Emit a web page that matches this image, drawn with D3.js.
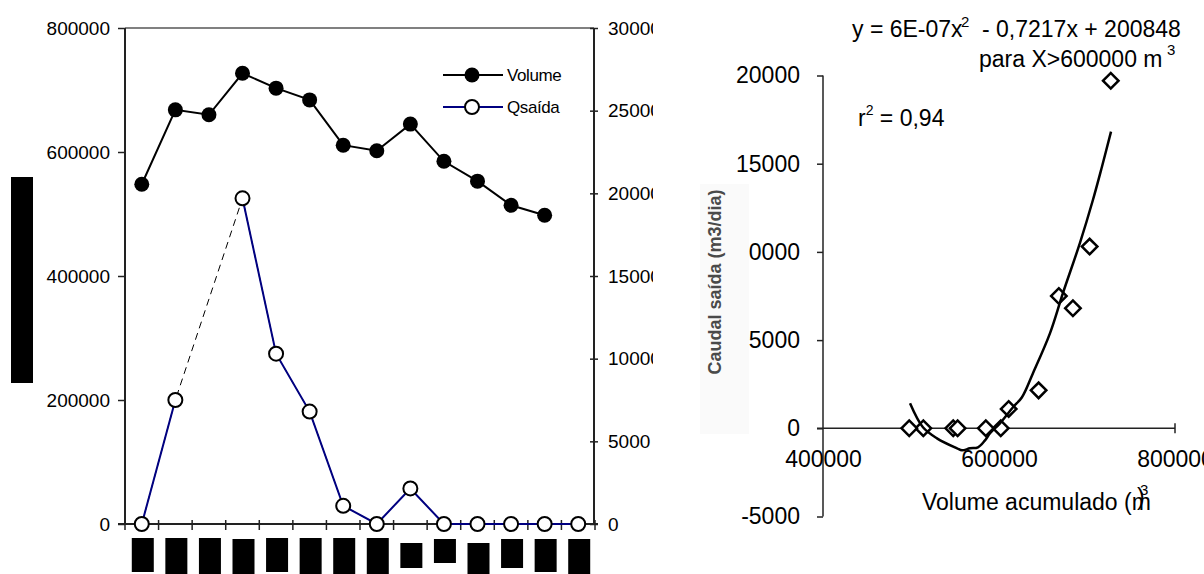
<!DOCTYPE html>
<html><head><meta charset="utf-8">
<script src="https://cdn.jsdelivr.net/npm/d3@7"></script>
<style>
html,body{margin:0;padding:0;background:#fff;}
svg{display:block;font-family:"Liberation Sans",Arial,sans-serif;}
</style></head>
<body><svg id="c" width="1204" height="574"></svg>
<script>
// ---------- data ----------
const categories = ["1","2","3","4","5","6","7","8","9","10","11","12","13","14"];
const volume = [548000, 668000, 660000, 727000, 703000, 684000, 611000, 602000, 645000, 585000, 553000, 514000, 498000, null];
const qsaida = [0, 7500, null, 19700, 10300, 6800, 1100, 0, 2150, 0, 0, 0, 0, 0];
const volTicks = [0, 200000, 400000, 600000, 800000];
const qTicks = [0, 5000, 10000, 15000, 20000, 25000, 30000];
const scatterXTicks = [400000, 600000, 800000];
const scatterYTicks = [-5000, 0, 5000, 10000, 15000, 20000];
// trend curve (volume, caudal)
const trendVol = [498900, 513600, 529500, 552300, 558000, 567000, 576100, 584100, 589800, 601100, 615900, 626100, 638600, 658000, 672700, 692000, 706800, 717000, 727300];
const trendQ   = [1420, 57, -568, -1136, -1250, -1136, -1080, -682, -284, 284, 1193, 1761, 3125, 5398, 7671, 10512, 12955, 14830, 16818];
const seriesNames = ["Volume", "Qsaída"];

const fmt = d => String(d);
const svg = d3.select("#c");
svg.append("rect").attr("width",1204).attr("height",574).attr("fill","#fff");

// ---------- left chart ----------
svg.append("defs").append("clipPath").attr("id","clipL")
  .append("rect").attr("x",0).attr("y",0).attr("width",653).attr("height",574);
const L = svg.append("g").attr("clip-path","url(#clipL)");

const xL = d3.scaleBand().domain(categories).range([125, 595]);
const cx = c => xL(c) + xL.bandwidth()/2;
const yV = d3.scaleLinear().domain([0, 800000]).range([524, 28]);
const yQ = d3.scaleLinear().domain([0, 30000]).range([524, 28]);

// top border
L.append("line").attr("x1",125).attr("x2",594).attr("y1",yV(800000)).attr("y2",yV(800000))
  .attr("stroke","#808080").attr("stroke-width",2);

// left axis
const axL = L.append("g").attr("transform","translate(125,0)")
  .call(d3.axisLeft(yV).tickValues(volTicks).tickSize(7).tickPadding(8).tickFormat(fmt));
axL.select(".domain").attr("stroke","#222").attr("stroke-width",2).attr("d","M0,28V524");
axL.selectAll(".tick line").attr("stroke","#222").attr("stroke-width",1.5);
axL.selectAll("text").attr("font-size",19).attr("fill","#000").attr("font-family","Liberation Sans, Arial, sans-serif");

// right axis
const axR = L.append("g").attr("transform","translate(594,0)")
  .call(d3.axisRight(yQ).tickValues(qTicks).tickSize(4).tickPadding(10).tickFormat(fmt));
axR.select(".domain").attr("stroke","#222").attr("stroke-width",2).attr("d","M0,28V524");
axR.selectAll(".tick line").attr("x1",-4).attr("x2",4).attr("stroke","#222").attr("stroke-width",1.5);
axR.selectAll("text").attr("font-size",19).attr("fill","#000").attr("font-family","Liberation Sans, Arial, sans-serif");

// bottom axis with boundary ticks
L.append("line").attr("x1",118).attr("x2",598).attr("y1",yV(0)).attr("y2",yV(0)).attr("stroke","#222").attr("stroke-width",2);
const bounds = categories.map(c => xL(c)).concat([xL.range()[1]]);
L.selectAll("line.bt").data(bounds).join("line").attr("class","bt")
  .attr("x1",d=>d).attr("x2",d=>d).attr("y1",yV(0)-4).attr("y2",yV(0)+6)
  .attr("stroke","#222").attr("stroke-width",1.5);

// redacted category labels (black boxes)
const boxTop = [538,538,538,539,538,538,538,538,543,539,543,539,539,539];
const boxBot = [572,574,574,574,572,574,574,574,568,563,574,568,572,574];
L.selectAll("rect.lab").data(categories).join("rect").attr("class","lab")
  .attr("x",c=>cx(c)-10).attr("width",22)
  .attr("y",(c,i)=>boxTop[i]).attr("height",(c,i)=>boxBot[i]-boxTop[i]).attr("fill","#000");
// redacted y-axis title
L.append("rect").attr("x",11).attr("y",177).attr("width",22).attr("height",206).attr("fill","#000");

// Volume line
const volPts = categories.map((c,i)=>({c, v: volume[i]})).filter(d=>d.v!=null);
L.append("path").datum(volPts)
  .attr("d", d3.line().x(d=>cx(d.c)).y(d=>yV(d.v)))
  .attr("fill","none").attr("stroke","#000").attr("stroke-width",2);

// Qsaída: dashed bridge over missing value
const qAll = categories.map((c,i)=>({c, v: qsaida[i]}));
const qDef = qAll.filter(d=>d.v!=null);
L.append("path").datum(qDef)
  .attr("d", d3.line().x(d=>cx(d.c)).y(d=>yQ(d.v)))
  .attr("fill","none").attr("stroke","#000").attr("stroke-width",1).attr("stroke-dasharray","7,5");
L.append("path").datum(qAll)
  .attr("d", d3.line().defined(d=>d.v!=null).x(d=>cx(d.c)).y(d=>yQ(d.v)))
  .attr("fill","none").attr("stroke","#000080").attr("stroke-width",2);
L.selectAll("circle.q").data(qDef).join("circle").attr("class","q")
  .attr("cx",d=>cx(d.c)).attr("cy",d=>yQ(d.v)).attr("r",7)
  .attr("fill","#fff").attr("stroke","#000").attr("stroke-width",2);
L.selectAll("circle.v").data(volPts).join("circle").attr("class","v")
  .attr("cx",d=>cx(d.c)).attr("cy",d=>yV(d.v)).attr("r",7.5).attr("fill","#000");

// legend
const lg = L.append("g");
[[75,"#000",true],[107,"#000080",false]].forEach((s,i)=>{
  lg.append("line").attr("x1",443).attr("x2",503).attr("y1",s[0]).attr("y2",s[0]).attr("stroke",s[1]).attr("stroke-width",2);
  lg.append("circle").attr("cx",472).attr("cy",s[0]).attr("r",s[2]?7.5:7)
    .attr("fill",s[2]?"#000":"#fff").attr("stroke","#000").attr("stroke-width",s[2]?0:2);
  lg.append("text").attr("x",507).attr("y",s[0]+6).attr("font-size",17).attr("letter-spacing",-0.4).text(seriesNames[i]);
});

// ---------- right chart (scatter) ----------
const R = svg.append("g");
const xS = d3.scaleLinear().domain([400000, 800000]).range([823, 1175]);
const yS = d3.scaleLinear().domain([-5000, 20000]).range([516.5, 75.5]);

const axSY = R.append("g").attr("transform","translate(823,0)")
  .call(d3.axisLeft(yS).tickValues(scatterYTicks).tickSize(6).tickPadding(17).tickFormat(fmt));
axSY.select(".domain").attr("stroke","#222").attr("stroke-width",1.5).attr("d",`M0,${yS(20000)}V${yS(-5000)}`);
axSY.selectAll(".tick line").attr("stroke","#222").attr("stroke-width",1.5);
axSY.selectAll("text").attr("font-size",23).attr("fill","#000").attr("font-family","Liberation Sans, Arial, sans-serif");

const axSX = R.append("g").attr("transform",`translate(0,${yS(0)})`)
  .call(d3.axisBottom(xS).tickValues(scatterXTicks).tickSize(0).tickPadding(22).tickFormat(fmt));
axSX.select(".domain").attr("stroke","#222").attr("stroke-width",1.5).attr("d","M817,0H1175");
axSX.selectAll("text").attr("font-size",23).attr("fill","#000").attr("font-family","Liberation Sans, Arial, sans-serif");
R.append("line").attr("x1",xS(800000)).attr("x2",xS(800000)).attr("y1",yS(0)-5).attr("y2",yS(0)+5)
  .attr("stroke","#222").attr("stroke-width",1.5);

// y title with light box (covers the leading digit of 10000 as in the original)
R.append("rect").attr("x",700).attr("y",184).attr("width",49).attr("height",250).attr("fill","#fafafa");
R.append("text").attr("transform","translate(721,282) rotate(-90)").attr("text-anchor","middle")
  .attr("font-size",18).attr("font-weight","bold").attr("fill","#4a4a4a").text("Caudal saída (m3/dia)");

// scatter points
const sc = categories.map((c,i)=>({x: volume[i], y: qsaida[i]})).filter(d=>d.x!=null && d.y!=null);
R.selectAll("path.pt").data(sc).join("path").attr("class","pt")
  .attr("transform",d=>`translate(${xS(d.x)},${yS(d.y)}) rotate(45)`)
  .attr("d", d3.symbol().type(d3.symbolSquare).size(120))
  .attr("fill","#fff").attr("stroke","#000").attr("stroke-width",2.5);

// trend curve
const trend = trendVol.map((v,i)=>({x:v, y:trendQ[i]}));
R.append("path").datum(trend)
  .attr("d", d3.line().curve(d3.curveCatmullRom).x(d=>xS(d.x)).y(d=>yS(d.y)))
  .attr("fill","none").attr("stroke","#000").attr("stroke-width",2.5);

// annotations
R.append("text").attr("x",852).attr("y",37).attr("font-size",23).text("y = 6E-07x");
R.append("text").attr("x",961).attr("y",27).attr("font-size",15).text("2");
R.append("text").attr("x",982).attr("y",37).attr("font-size",23).text("- 0,7217x + 200848");
R.append("text").attr("x",979).attr("y",67).attr("font-size",23).text("para X>600000 m");
R.append("text").attr("x",1167).attr("y",55).attr("font-size",15).text("3");
const r2 = R.append("text").attr("x",858).attr("y",126).attr("font-size",23);
r2.append("tspan").text("r");
r2.append("tspan").attr("font-size",14).attr("dy",-11).text("2");
r2.append("tspan").attr("dy",11).text(" = 0,94");
R.append("text").attr("x",922).attr("y",510).attr("font-size",23).text("Volume acumulado (m");
R.append("text").attr("x",1137).attr("y",505).attr("font-size",23).text(")");
R.append("text").attr("x",1140).attr("y",495).attr("font-size",15).text("3");
</script></body></html>
